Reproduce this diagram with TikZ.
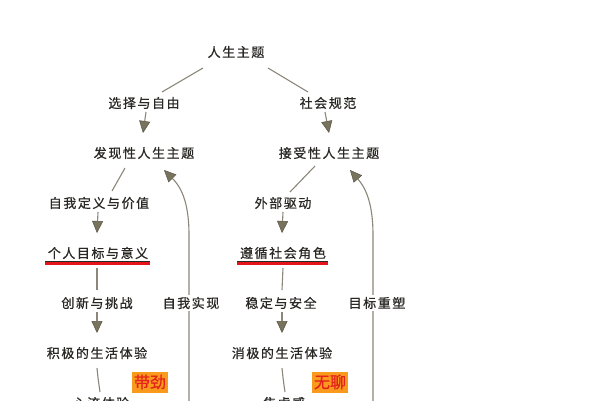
\documentclass[tikz,border=0pt]{standalone}
\usepackage{fontspec}
\setmainfont{Noto Sans CJK SC}[LetterSpace=12,FakeBold=0.7]
\newfontfamily\tagfont{Noto Sans CJK SC}[FakeBold=0.8]
\usetikzlibrary{arrows.meta}
\definecolor{txt}{HTML}{2A2824}
\definecolor{ln}{HTML}{8C877A}
\definecolor{tipfill}{HTML}{78735D}
\definecolor{tipdraw}{HTML}{5A5648}
\definecolor{tagfill}{HTML}{F99A1C}
\definecolor{tagtxt}{HTML}{E3231B}
\definecolor{ul}{HTML}{E5141B}
\tikzset{
  lbl/.style={inner sep=0pt, text=txt, font=\fontsize{13}{13}\selectfont},
  loopl/.style={lbl, fill=white, inner sep=2pt},
  conn/.style={draw=ln, line width=1.1pt},
  arr/.style={conn, -{Triangle[length=12pt,width=11pt,fill=tipfill,color=tipdraw,line width=0.5pt]}},
  tagbox/.style={fill=tagfill, minimum width=36pt, minimum height=21pt, inner sep=0pt, text=tagtxt, font=\tagfont\fontsize{16}{16}\selectfont},
}
\begin{document}
\begin{tikzpicture}[x=1pt,y=-1pt]
\useasboundingbox[fill=white] (0,0) rectangle (600,400);
% nodes
\node[lbl] (top) at (236,52) {人生主题};
\node[lbl] (l1) at (144,103) {选择与自由};
\node[lbl] (r1) at (328,103) {社会规范};
\node[lbl] (l2) at (144,153) {发现性人生主题};
\node[lbl] (r2) at (329,153) {接受性人生主题};
\node[lbl] (l3) at (99,203) {自我定义与价值};
\node[lbl] (r3) at (283,203) {外部驱动};
\node[lbl] (l4) at (98,253) {个人目标与意义};
\node[lbl] (r4) at (283,253) {遵循社会角色};
\node[lbl] (l5) at (97,303) {创新与挑战};
\node[lbl] (r5) at (281,303) {稳定与安全};
\node[lbl] (l6) at (97,353) {积极的生活体验};
\node[lbl] (r6) at (282,353) {消极的生活体验};
\node[lbl] (l7) at (101,403) {心流体验};
\node[lbl] (r7) at (284,403) {焦虑感};
% connectors
\draw[conn] ([shift={(-33,16)}]top.center) -- ([shift={(18,-11)}]l1.center);
\draw[conn] ([shift={(32,16)}]top.center) -- ([shift={(-20,-11)}]r1.center);
\draw[arr] ([shift={(2,9)}]l1.center) -- ([shift={(-1,-20)}]l2.center);
\draw[arr] ([shift={(-3,9)}]r1.center) -- ([shift={(0,-20)}]r2.center);
\draw[conn] ([shift={(-19,15)}]l2.center) -- ([shift={(13,-12)}]l3.center);
\draw[conn] ([shift={(-14,13)}]r2.center) -- ([shift={(7,-11)}]r3.center);
\draw[arr] ([shift={(-1,9)}]l3.center) -- ([shift={(-1,-20)}]l4.center);
\draw[arr] ([shift={(0,9)}]r3.center) -- ([shift={(-1,-20)}]r4.center);
\draw[conn] ([shift={(-1,15)}]l4.center) -- ([shift={(0,-13)}]l5.center);
\draw[conn] ([shift={(0,15)}]r4.center) -- ([shift={(1,-13)}]r5.center);
\draw[arr] ([shift={(0,9)}]l5.center) -- ([shift={(0,-20)}]l6.center);
\draw[arr] ([shift={(1,9)}]r5.center) -- ([shift={(0,-20)}]r6.center);
\draw[conn] ([shift={(0,15)}]l6.center) .. controls ([shift={(1,25)}]l6.center) .. ([shift={(-1,-11)}]l7.center);
\draw[conn] ([shift={(0,15)}]r6.center) .. controls ([shift={(1,25)}]r6.center) .. ([shift={(1,-11)}]r7.center);
% underlines
\draw[draw=txt, line width=0.6pt] ([shift={(-53,8)}]l4.center) -- ([shift={(52,8)}]l4.center);
\draw[draw=ul, line width=3pt] ([shift={(-53,10.5)}]l4.center) -- ([shift={(52,10.5)}]l4.center);
\draw[draw=txt, line width=0.6pt] ([shift={(-46,8)}]r4.center) -- ([shift={(45,8)}]r4.center);
\draw[draw=ul, line width=3pt] ([shift={(-46,10.5)}]r4.center) -- ([shift={(45,10.5)}]r4.center);
% loops
\coordinate (lb) at (189,410);
\coordinate (rb) at (373,410);
\draw[arr] (lb) -- (189,235) .. controls (189,200) and (180,186) .. ([shift={(20,17)}]l2.center);
\draw[arr] (rb) -- (373,235) .. controls (373,200) and (364,186) .. ([shift={(21,17)}]r2.center);
\node[loopl] (la) at (191,303) {自我实现};
\node[loopl] (ra) at (377,303) {目标重塑};
% tags
\node[tagbox] (tl) at (150,382) {带劲};
\node[tagbox] (tr) at (330,382) {无聊};
\end{tikzpicture}
\end{document}
